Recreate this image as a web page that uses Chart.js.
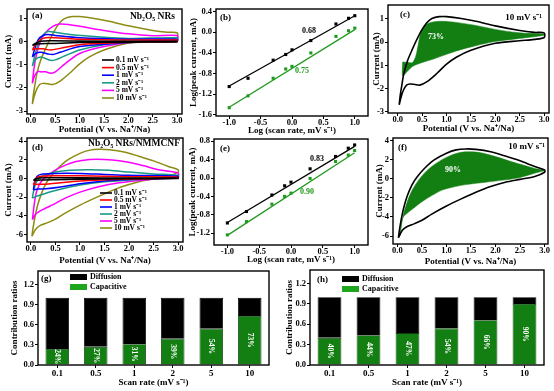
<!DOCTYPE html>
<html>
<head>
<meta charset="utf-8">
<script src="https://cdn.jsdelivr.net/npm/chart.js@4.4.1/dist/chart.umd.min.js"></script>
<style>
  body { margin: 0; background: #fff; }
  #wrap { position: relative; width: 554px; height: 391px; overflow: hidden; }
  #wrap canvas { position: absolute; }
</style>
</head>
<body>
<div id="wrap"></div>
<script>
// CV loops: [potential V, current mA], anodic sweep first, then cathodic back

// (a) Nb2O5 NRs
const cvA01 = [[0.03, -0.15], [0.1, -0.05], [0.2, 0.03], [0.4, 0.05], [1.0, 0.04], [2.0, 0.03], [3.0, 0.03],
  [3.0, 0.0], [2.0, -0.01], [1.0, -0.03], [0.4, -0.07], [0.2, -0.08], [0.1, -0.1], [0.03, -0.15]];
const cvA05 = [[0.03, -0.35], [0.1, -0.1], [0.2, 0.1], [0.3, 0.18], [0.5, 0.18], [1.0, 0.12], [2.0, 0.08], [3.0, 0.08],
  [3.0, 0.02], [2.0, -0.02], [1.0, -0.12], [0.6, -0.28], [0.4, -0.35], [0.25, -0.3], [0.1, -0.3], [0.03, -0.35]];
const cvA1 = [[0.03, -0.65], [0.08, -0.3], [0.15, 0.1], [0.25, 0.28], [0.35, 0.32], [0.5, 0.28], [1.0, 0.18], [2.0, 0.12], [3.0, 0.12],
  [3.0, 0.03], [2.0, -0.02], [1.0, -0.2], [0.6, -0.45], [0.45, -0.55], [0.35, -0.52], [0.2, -0.45], [0.1, -0.5], [0.03, -0.65]];
const cvA2 = [[0.03, -1.05], [0.08, -0.6], [0.15, -0.1], [0.25, 0.3], [0.35, 0.45], [0.5, 0.42], [0.8, 0.32], [1.5, 0.2], [2.0, 0.15], [3.0, 0.18],
  [3.0, 0.05], [2.0, -0.03], [1.5, -0.12], [1.0, -0.35], [0.7, -0.6], [0.5, -0.78], [0.4, -0.8], [0.3, -0.72], [0.2, -0.65], [0.1, -0.75], [0.03, -1.05]];
const cvA5 = [[0.03, -1.8], [0.06, -1.2], [0.12, -0.5], [0.2, 0.05], [0.3, 0.4], [0.45, 0.68], [0.6, 0.78], [0.8, 0.75], [1.0, 0.68], [1.5, 0.5], [2.0, 0.35], [2.5, 0.27], [3.0, 0.28],
  [3.0, 0.08], [2.5, 0.04], [2.0, -0.02], [1.5, -0.2], [1.0, -0.5], [0.7, -0.95], [0.5, -1.3], [0.4, -1.36], [0.3, -1.3], [0.2, -1.3], [0.15, -1.28], [0.08, -1.45], [0.03, -1.8]];
const cvA10 = [[0.03, -2.7], [0.05, -2.3], [0.08, -1.9], [0.12, -1.4], [0.2, -0.8], [0.3, -0.3], [0.4, 0.15], [0.5, 0.55], [0.6, 0.85], [0.7, 1.02], [0.85, 1.1], [1.0, 1.1], [1.3, 1.02], [1.6, 0.9], [2.0, 0.7], [2.5, 0.5], [2.8, 0.42], [3.0, 0.4],
  [3.0, 0.2], [2.8, 0.12], [2.5, 0.06], [2.0, -0.05], [1.5, -0.35], [1.2, -0.65], [1.0, -0.95], [0.8, -1.35], [0.6, -1.7], [0.45, -1.85], [0.35, -1.82], [0.25, -1.8], [0.18, -1.85], [0.12, -2.05], [0.07, -2.35], [0.03, -2.7]];

// (d) Nb2O5 NRs/NMMCNF
const cvD01 = [[0.05, -0.2], [0.1, 0.0], [0.3, 0.08], [1.0, 0.08], [2.0, 0.05], [3.0, 0.05],
  [3.0, 0.0], [2.0, -0.03], [1.0, -0.08], [0.5, -0.12], [0.2, -0.15], [0.05, -0.2]];
const cvD05 = [[0.05, -0.65], [0.08, -0.3], [0.12, 0.1], [0.2, 0.25], [0.5, 0.3], [1.0, 0.3], [2.0, 0.2], [3.0, 0.15],
  [3.0, 0.05], [2.0, -0.05], [1.0, -0.25], [0.5, -0.5], [0.3, -0.6], [0.15, -0.62], [0.05, -0.65]];
const cvD1 = [[0.05, -1.2], [0.07, -0.6], [0.12, 0.2], [0.2, 0.45], [0.5, 0.55], [1.0, 0.55], [1.5, 0.45], [2.0, 0.35], [3.0, 0.25],
  [3.0, 0.05], [2.0, -0.1], [1.5, -0.25], [1.0, -0.55], [0.6, -0.9], [0.3, -1.1], [0.15, -1.12], [0.05, -1.2]];
const cvD2 = [[0.03, -2.1], [0.06, -1.2], [0.12, -0.3], [0.25, 0.3], [0.5, 0.7], [0.8, 0.9], [1.2, 0.95], [1.6, 0.88], [2.0, 0.7], [2.5, 0.5], [3.0, 0.35],
  [3.0, 0.1], [2.5, 0.0], [2.0, -0.15], [1.5, -0.35], [1.0, -0.7], [0.6, -1.15], [0.35, -1.5], [0.15, -1.85], [0.03, -2.1]];
const cvD5 = [[0.03, -4.4], [0.05, -3.5], [0.08, -2.3], [0.12, -1.3], [0.2, -0.4], [0.35, 0.4], [0.6, 1.2], [0.9, 1.8], [1.2, 2.05], [1.5, 2.05], [1.8, 1.9], [2.2, 1.5], [2.6, 0.95], [3.0, 0.6],
  [3.0, 0.3], [2.6, 0.0], [2.2, -0.2], [1.8, -0.45], [1.4, -0.85], [1.0, -1.45], [0.7, -2.1], [0.45, -2.8], [0.25, -3.3], [0.1, -3.8], [0.03, -4.4]];
const cvD10 = [[0.02, -6.2], [0.04, -5.4], [0.08, -4.2], [0.13, -3.0], [0.2, -1.8], [0.3, -0.6], [0.4, 0.2], [0.55, 1.1], [0.75, 2.0], [1.0, 2.7], [1.2, 3.05], [1.4, 3.15], [1.6, 3.1], [1.9, 2.85], [2.2, 2.4], [2.5, 1.9], [2.8, 1.3], [3.0, 0.95],
  [3.0, 0.7], [2.8, 0.25], [2.5, -0.05], [2.2, -0.35], [1.9, -0.8], [1.6, -1.4], [1.3, -2.1], [1.0, -2.85], [0.7, -3.7], [0.5, -4.35], [0.35, -4.7], [0.2, -5.0], [0.1, -5.4], [0.02, -6.2]];

// capacitive share at 10 mV/s, (c) and (f)
const capA10 = [[0.1, -0.85], [0.2, -0.87], [0.3, -0.88], [0.37, -0.6], [0.42, -0.1], [0.47, 0.4], [0.55, 0.72], [0.7, 0.86], [0.9, 0.9], [1.2, 0.85], [1.6, 0.72], [2.0, 0.55], [2.5, 0.4], [3.0, 0.35],
  [3.0, 0.3], [2.5, 0.16], [2.0, 0.03], [1.6, -0.15], [1.2, -0.38], [0.9, -0.6], [0.7, -0.75], [0.4, -0.95], [0.3, -1.05], [0.2, -1.25], [0.1, -1.45], [0.1, -0.85]];
const capD10 = [[0.05, -6.0], [0.08, -5.0], [0.12, -3.8], [0.2, -2.4], [0.3, -1.2], [0.45, 0.0], [0.65, 1.1], [0.9, 2.0], [1.1, 2.5], [1.3, 2.8], [1.5, 2.85], [1.7, 2.75], [2.0, 2.35], [2.3, 1.85], [2.6, 1.4], [2.8, 1.1], [3.0, 0.9],
  [2.8, 0.6], [2.5, 0.15], [2.2, -0.1], [1.8, -0.35], [1.4, -0.6], [1.1, -0.9], [0.9, -1.2], [0.7, -1.75], [0.5, -2.4], [0.35, -3.0], [0.2, -3.6], [0.12, -4.0], [0.08, -4.6], [0.05, -6.0]];

// b-value fits: log(scan rate) vs log(peak current)
const logRate = [-1, -0.7, -0.3, -0.1, 0, 0.3, 0.7, 0.9, 1];
const peakB1 = [-1.05, -0.89, -0.54, -0.43, -0.34, -0.16, 0.16, 0.27, 0.32];
const peakB2 = [-1.46, -1.23, -0.89, -0.71, -0.66, -0.40, -0.08, 0.03, 0.08];
const peakE1 = [-0.98, -0.73, -0.37, -0.17, -0.09, 0.20, 0.47, 0.65, 0.72];
const peakE2 = [-1.24, -0.95, -0.57, -0.40, -0.33, -0.01, 0.36, 0.50, 0.60];
const fitX = [-1, 1];
const fitB1 = [-1.04, 0.32];
const fitB2 = [-1.45, 0.05];
const fitE1 = [-0.97, 0.69];
const fitE2 = [-1.25, 0.55];

// contribution ratios
const rates = ['0.1', '0.5', '1', '2', '5', '10'];
const capG = [0.24, 0.27, 0.31, 0.39, 0.54, 0.73];
const difG = [0.76, 0.73, 0.69, 0.61, 0.46, 0.27];
const capH = [0.40, 0.44, 0.47, 0.54, 0.66, 0.90];
const difH = [0.60, 0.56, 0.53, 0.46, 0.34, 0.10];

// tick labels
const cvXTicks = [0, 0.5, 1, 1.5, 2, 2.5, 3];
const yTicksA = [-3, -2, -1, 0, 1];
const yTicksD = [-6, -4, -2, 0, 2, 4];
const logXTicks = [-1, -0.5, 0, 0.5, 1];
const yTicksB = [-1.6, -1.2, -0.8, -0.4, 0, 0.4];
const yTicksE = [-1.2, -0.8, -0.4, 0, 0.4, 0.8];
const ratioTicks = [0, 0.3, 0.6, 0.9, 1.2];

const rateLabels = ['0.1 mV s⁻¹', '0.5 mV s⁻¹', '1 mV s⁻¹', '2 mV s⁻¹', '5 mV s⁻¹', '10 mV s⁻¹'];
const cvColors = ['#000000', '#ff0000', '#0000ff', '#1a9a86', '#ff00ff', '#8c8c14'];
const FILL_GREEN = '#137f13';
const LINE_GREEN = '#1f9a1f';
const SERIF = '"Liberation Serif", "Times New Roman", serif';

Chart.defaults.font.family = SERIF;
Chart.defaults.font.weight = 'bold';
Chart.defaults.color = '#000';

const wrap = document.getElementById('wrap');
const pts = (arr) => arr.map(([x, y]) => ({ x, y }));
const zip = (xs, ys) => xs.map((x, i) => ({ x, y: ys[i] }));

const framePlugin = {
  id: 'frame',
  afterDraw(chart) {
    const { ctx, chartArea: a } = chart;
    ctx.save();
    ctx.strokeStyle = '#000';
    ctx.lineWidth = 1.4;
    ctx.strokeRect(a.left, a.top, a.right - a.left, a.bottom - a.top);
    ctx.restore();
  },
};

// free text, legend lines and swatches, placed relative to the plot area
const notesPlugin = {
  id: 'notes',
  afterDraw(chart, args, opts) {
    const { ctx, chartArea: a } = chart;
    (opts.items || []).forEach((it) => {
      const x = a.left + it.x;
      const y = a.top + it.y;
      ctx.save();
      if (it.kind === 'box') {
        ctx.fillStyle = it.color;
        ctx.fillRect(x, y, it.w, it.h);
      } else if (it.kind === 'line') {
        ctx.strokeStyle = it.color;
        ctx.lineWidth = 1.6;
        ctx.beginPath();
        ctx.moveTo(x, y);
        ctx.lineTo(x + it.w, y);
        ctx.stroke();
      } else {
        ctx.font = `bold ${it.size || 9}px ${SERIF}`;
        ctx.fillStyle = it.color || '#000';
        ctx.textAlign = it.align || 'left';
        ctx.textBaseline = 'middle';
        ctx.fillText(it.text, x, y);
      }
      ctx.restore();
    });
  },
};

const barLabelPlugin = {
  id: 'barLabels',
  afterDatasetsDraw(chart) {
    const { ctx } = chart;
    const meta = chart.getDatasetMeta(0);
    const values = chart.data.datasets[0].data;
    ctx.save();
    ctx.font = `bold 7.5px ${SERIF}`;
    ctx.fillStyle = '#fff';
    ctx.textAlign = 'center';
    ctx.textBaseline = 'middle';
    meta.data.forEach((bar, i) => {
      ctx.save();
      ctx.translate(bar.x, (bar.y + bar.base) / 2);
      ctx.rotate(Math.PI / 2);
      ctx.fillText(`${Math.round(values[i] * 100)}%`, 0, 0);
      ctx.restore();
    });
    ctx.restore();
  },
};

function cvLegend(x0, y0, dy) {
  const items = [];
  rateLabels.forEach((label, i) => {
    items.push({ kind: 'line', x: x0, y: y0 + i * dy, w: 12, color: cvColors[i] });
    items.push({ text: label, x: x0 + 14, y: y0 + i * dy, size: 7.5 });
  });
  return items;
}

function linAxis(min, max, tickVals, digits, title, horizontal) {
  return {
    type: 'linear',
    min,
    max,
    afterBuildTicks: (s) => { s.ticks = tickVals.map((value) => ({ value })); },
    ticks: {
      autoSkip: false,
      maxRotation: 0,
      padding: horizontal ? -1 : 1,
      font: { size: 8.5, weight: 'bold' },
      callback: (v) => Number(v).toFixed(digits),
    },
    grid: { drawOnChartArea: false, tickLength: 3, color: '#000', lineWidth: 1 },
    border: { display: false },
    title: { display: true, text: title, font: { size: 9, weight: 'bold' }, padding: 0 },
  };
}

// box: plot area edges (L,T,R,B) plus y-title x and x-title y, page pixels
function panel(box, config, extra) {
  const padT = 7;
  const padR = 10;
  const left = box.yt - 6;
  const top = box.T - padT;
  const width = box.R + padR - left;
  const height = box.xt + 6 - top;
  const canvas = document.createElement('canvas');
  canvas.width = width;
  canvas.height = height;
  canvas.style.left = `${left}px`;
  canvas.style.top = `${top}px`;
  wrap.appendChild(canvas);
  const { options } = config;
  options.responsive = false;
  options.animation = false;
  options.layout = { padding: { top: padT, right: padR, left: 0, bottom: 0 } };
  options.scales.x.afterFit = (s) => { s.height = box.xt + 6 - box.B; };
  options.scales.y.afterFit = (s) => { s.width = box.L - left; };
  options.plugins = Object.assign({ legend: { display: false }, tooltip: { enabled: false } }, options.plugins);
  config.plugins = [framePlugin, notesPlugin].concat(extra || []);
  return new Chart(canvas, config);
}

function cvChart(box, curves, xr, yr, yTicks, notes) {
  return panel(box, {
    type: 'scatter',
    data: {
      datasets: curves.map((c, i) => ({
        label: rateLabels[i],
        data: pts(c),
        showLine: true,
        borderColor: cvColors[i],
        borderWidth: 1.5,
        pointRadius: 0,
        tension: 0.3,
      })),
    },
    options: {
      scales: {
        x: linAxis(xr[0], xr[1], cvXTicks, 1, 'Potential (V vs. Na⁺/Na)', true),
        y: linAxis(yr[0], yr[1], yTicks, 0, 'Current (mA)'),
      },
      plugins: { notes: { items: notes } },
    },
  });
}

function capChart(box, outer, inner, xr, yr, yTicks, notes) {
  return panel(box, {
    type: 'scatter',
    data: {
      datasets: [
        { data: pts(outer), showLine: true, borderColor: '#000', borderWidth: 1.6, pointRadius: 0, tension: 0.3 },
        { data: pts(inner), showLine: true, borderColor: FILL_GREEN, borderWidth: 0.5, backgroundColor: FILL_GREEN, fill: 'shape', pointRadius: 0, tension: 0.3 },
      ],
    },
    options: {
      scales: {
        x: linAxis(xr[0], xr[1], cvXTicks, 1, 'Potential (V vs. Na⁺/Na)', true),
        y: linAxis(yr[0], yr[1], yTicks, 0, 'Current (mA)'),
      },
      plugins: { notes: { items: notes } },
    },
  });
}

function fitChart(box, p1, p2, f1, f2, yr, yTicks, notes) {
  const pointSet = (ys, color) => ({ data: zip(logRate, ys), pointStyle: 'rect', pointRadius: 2.2, backgroundColor: color, borderColor: color, borderWidth: 0 });
  const lineSet = (ys, color) => ({ data: zip(fitX, ys), showLine: true, pointRadius: 0, borderColor: color, borderWidth: 1.3 });
  return panel(box, {
    type: 'scatter',
    data: { datasets: [pointSet(p1, '#000'), lineSet(f1, '#000'), pointSet(p2, LINE_GREEN), lineSet(f2, LINE_GREEN)] },
    options: {
      scales: {
        x: linAxis(-1.21, 1.21, logXTicks, 1, 'Log (scan rate, mV s⁻¹)', true),
        y: linAxis(yr[0], yr[1], yTicks, 1, 'Log(peak current, mA)'),
      },
      plugins: { notes: { items: notes } },
    },
  });
}

function ratioChart(box, cap, dif, notes) {
  const y = linAxis(0, 1.4, ratioTicks, 1, 'Contribution ratios');
  y.stacked = true;
  return panel(box, {
    type: 'bar',
    data: {
      labels: rates,
      datasets: [
        { label: 'Capacitive', data: cap, backgroundColor: FILL_GREEN, borderColor: '#0a3d0a', borderWidth: 0.8 },
        { label: 'Diffusion', data: dif, backgroundColor: '#000', borderColor: '#000', borderWidth: 0.8 },
      ],
    },
    options: {
      datasets: { bar: { barPercentage: 1, categoryPercentage: 0.61 } },
      scales: {
        x: {
          stacked: true,
          ticks: { padding: 0, font: { size: 9, weight: 'bold' } },
          grid: { drawOnChartArea: false, offset: false, tickLength: 3, color: '#000' },
          border: { display: false },
          title: { display: true, text: 'Scan rate (mV s⁻¹)', font: { size: 9, weight: 'bold' }, padding: 0 },
        },
        y,
      },
      plugins: { notes: { items: notes } },
    },
  }, [barLabelPlugin]);
}

// (a)
cvChart({ L: 27, T: 9, R: 182, B: 114, yt: 9, xt: 129 },
  [cvA01, cvA05, cvA1, cvA2, cvA5, cvA10], [-0.08, 3.1], [-3.13, 1.43], yTicksA,
  [{ text: '(a)', x: 5, y: 7 }, { text: 'Nb₂O₅ NRs', x: 148, y: 8, align: 'right', size: 9.5 }].concat(cvLegend(75, 51, 7.6)));

// (b)
fitChart({ L: 216, T: 9, R: 368, B: 116, yt: 194, xt: 130 },
  peakB1, peakB2, fitB1, fitB2, [-1.62, 0.45], yTicksB,
  [{ text: '(b)', x: 4, y: 9 }, { text: '0.68', x: 93, y: 22, align: 'center', size: 8 },
    { text: '0.75', x: 86, y: 62, align: 'center', size: 8, color: LINE_GREEN }]);

// (c)
capChart({ L: 388, T: 5, R: 549, B: 113, yt: 377, xt: 128 },
  cvA10, capA10, [-0.2, 3.1], [-3.05, 1.6], yTicksA,
  [{ text: '(c)', x: 12, y: 10 }, { text: '10 mV s⁻¹', x: 154, y: 13, align: 'right', size: 9 },
    { text: '73%', x: 48, y: 32, align: 'center', size: 8, color: '#fff' }]);

// (d)
cvChart({ L: 27, T: 138, R: 183, B: 242, yt: 9, xt: 260 },
  [cvD01, cvD05, cvD1, cvD2, cvD5, cvD10], [-0.08, 3.1], [-6.8, 4.35], yTicksD,
  [{ text: '(d)', x: 5, y: 10 }, { text: 'Nb₂O₅ NRs/NMMCNF', x: 153, y: 6, align: 'right', size: 9.5 }].concat(cvLegend(73, 55, 7)));

// (e)
fitChart({ L: 214, T: 139, R: 368, B: 245, yt: 193, xt: 259 },
  peakE1, peakE2, fitE1, fitE2, [-1.46, 0.85], yTicksE,
  [{ text: '(e)', x: 6, y: 10 }, { text: '0.83', x: 103, y: 20, align: 'center', size: 8 },
    { text: '0.90', x: 93, y: 53, align: 'center', size: 8, color: LINE_GREEN }]);

// (f)
capChart({ L: 393, T: 138, R: 548, B: 244, yt: 380, xt: 261 },
  cvD10, capD10, [-0.09, 3.07], [-6.84, 4.3], yTicksD,
  [{ text: '(f)', x: 5, y: 10 }, { text: '10 mV s⁻¹', x: 152, y: 9, align: 'right', size: 9 },
    { text: '90%', x: 60, y: 32, align: 'center', size: 8, color: '#fff' }]);

// (g)
ratioChart({ L: 38, T: 271, R: 269, B: 365, yt: 15, xt: 382 }, capG, difG,
  [{ text: '(g)', x: 3, y: 8 },
    { kind: 'box', x: 32, y: 3, w: 17, h: 6, color: '#000' }, { text: 'Diffusion', x: 52, y: 6, size: 8 },
    { kind: 'box', x: 32, y: 13, w: 17, h: 6, color: '#1ea51e' }, { text: 'Capacitive', x: 52, y: 16, size: 8 }]);

// (h)
ratioChart({ L: 310, T: 270, R: 544, B: 365, yt: 290, xt: 382 }, capH, difH,
  [{ text: '(h)', x: 7, y: 10 },
    { kind: 'box', x: 32, y: 6, w: 17, h: 6, color: '#000' }, { text: 'Diffusion', x: 52, y: 9, size: 8 },
    { kind: 'box', x: 32, y: 16, w: 17, h: 6, color: '#1ea51e' }, { text: 'Capacitive', x: 52, y: 19, size: 8 }]);
</script>
</body>
</html>
